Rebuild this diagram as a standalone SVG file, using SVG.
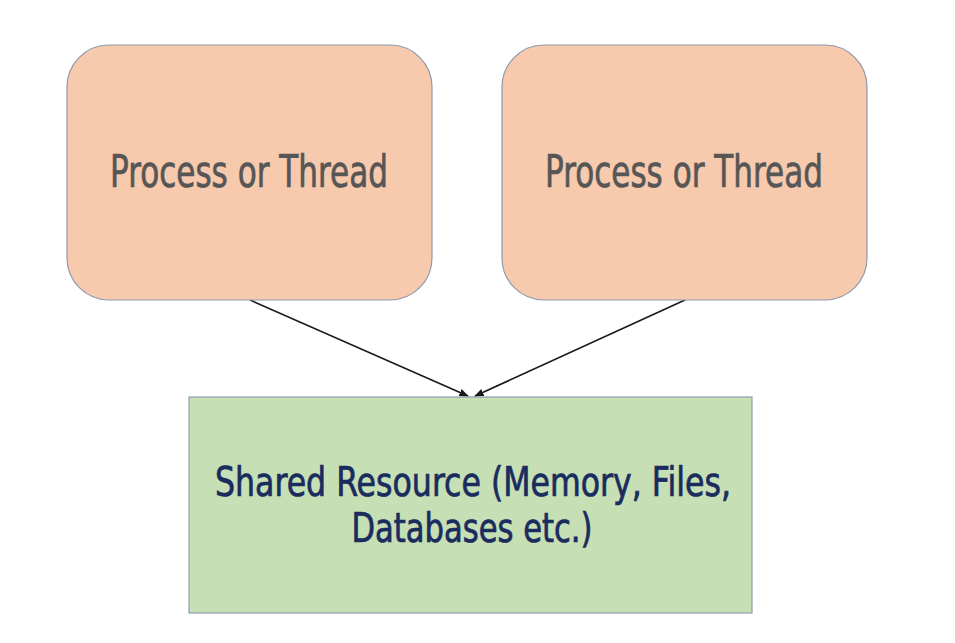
<svg xmlns="http://www.w3.org/2000/svg" width="955" height="643" viewBox="0 0 955 643">
<defs>
<style>
.proc{fill:#f7c9ad;stroke:#8e9aab;stroke-width:1.2}
.res{fill:#c6dfb4;stroke:#8e9fb0;stroke-width:1.2}
.pt{font-family:"DejaVu Sans Condensed","Liberation Sans Narrow","Liberation Sans",sans-serif;font-stretch:condensed;font-size:44px;fill:#565656;stroke:#565656;stroke-width:0.7;text-anchor:middle}
.rt{font-family:"DejaVu Sans Condensed","Liberation Sans Narrow","Liberation Sans",sans-serif;font-stretch:condensed;font-size:40px;fill:#1a2b5e;stroke:#1a2b5e;stroke-width:0.7;text-anchor:middle}
.con{stroke:#1a1a1a;stroke-width:1.6;fill:none;marker-end:url(#ah)}
</style>
<marker id="ah" viewBox="0 0 10 10" refX="9" refY="5" markerWidth="6" markerHeight="6" orient="auto" markerUnits="strokeWidth">
<path d="M0,1 L10,5 L0,9 Z" fill="#1a1a1a"/>
</marker>
</defs>
<rect width="955" height="643" fill="#ffffff"/>
<g id="connectors">
<line class="con" x1="250" y1="300" x2="468" y2="396"/>
<line class="con" x1="685" y1="300" x2="475" y2="396"/>
</g>
<g id="proc1">
<rect class="proc" x="67" y="45" width="365" height="255" rx="42"/>
<text class="pt" x="249" y="187" textLength="278" lengthAdjust="spacingAndGlyphs">Process or Thread</text>
</g>
<g id="proc2">
<rect class="proc" x="502" y="45" width="365" height="255" rx="42"/>
<text class="pt" x="684" y="187" textLength="278" lengthAdjust="spacingAndGlyphs">Process or Thread</text>
</g>
<g id="resource">
<rect class="res" x="189" y="397" width="563" height="216"/>
<text class="rt" x="473" y="496" textLength="516" lengthAdjust="spacingAndGlyphs">Shared Resource (Memory, Files,</text>
<text class="rt" x="472" y="542" textLength="241" lengthAdjust="spacingAndGlyphs">Databases etc.)</text>
</g>
</svg>
